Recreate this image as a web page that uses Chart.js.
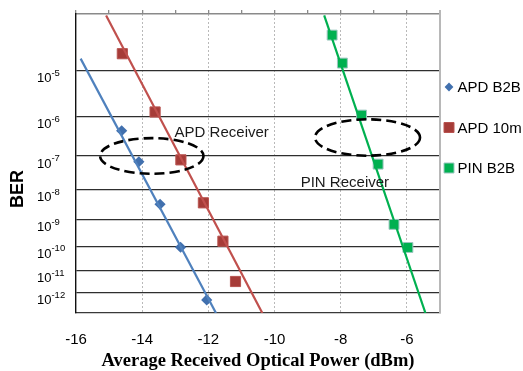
<!DOCTYPE html>
<html><head><meta charset="utf-8">
<script src="https://cdn.jsdelivr.net/npm/chart.js@4.4.1/dist/chart.umd.min.js"></script>
<style>html,body{margin:0;padding:0;background:#fff}</style>
</head><body>
<canvas id="c" width="523" height="371"></canvas>
<script>
// ---- data ----
const seriesNames = ['APD B2B', 'APD 10m', 'PIN B2B'];
const apdB2bPower = [-14.62, -14.10, -13.46, -12.84, -12.05];
const apdB2bBer   = [4.6e-7, 6.9e-8, 3.4e-9, 9.3e-11, 4.5e-13];
const apd10mPower = [-14.60, -13.61, -12.83, -12.15, -11.56, -11.18];
const apd10mBer   = [2.1e-5, 1.3e-6, 7.8e-8, 3.8e-9, 1.6e-10, 3.3e-12];
const pinB2bPower = [-8.26, -7.95, -7.37, -6.87, -6.39, -5.97];
const pinB2bBer   = [4.5e-5, 1.4e-5, 1.1e-6, 5.9e-8, 6.8e-10, 9.1e-11];
// fitted straight lines (end points)
const apdB2bFitPower = [-15.86, -11.77];
const apdB2bFitBer   = [1.7e-5, 1e-13];
const apd10mFitPower = [-15.09, -10.37];
const apd10mFitBer   = [9.5e-5, 1e-13];
const pinB2bFitPower = [-8.50, -5.44];
const pinB2bFitBer   = [9.5e-5, 1e-13];
// axes
const berTickExponents = [5, 6, 7, 8, 9, 10, 11, 12];
const berRange = [1e-4, 1e-13];
const powerTicks = [-16, -14, -12, -10, -8, -6];
const powerRange = [-16, -5];
const xTitle = 'Average Received Optical Power (dBm)';
const yTitle = 'BER';
const noteTexts = ['APD Receiver', 'PIN Receiver'];

// ---- helpers ----
const q = b => Math.log10(-Math.log10(b));          // BER -> log(-log BER) scale
const pts = (xs, bs) => xs.map((x, i) => ({x: x, y: q(bs[i])}));

const C = {
  blueLine: '#4F81BD', blueMark: '#4170AE',
  redLine: '#C0504D', redMark: '#A63C38',
  greenLine: '#00B050', greenMark: '#00B050', greenEdge: '#9CC6C0'
};
const SANS = '"Liberation Sans", Arial, sans-serif';

const annotations = [
  {type: 'ellipse', x: -13.71, ber: 1.0e-7, rx: 51.7, ry: 17.8},
  {type: 'ellipse', x: -7.19, ber: 3.1e-7, rx: 52.5, ry: 18.2},
  {type: 'text', x: -13.02, ber: 4.1e-7, text: noteTexts[0]},
  {type: 'text', x: -9.21, ber: 1.6e-8, text: noteTexts[1]}
];

const annotPlugin = {
  id: 'annot',
  afterDatasetsDraw(chart) {
    const {ctx, chartArea: a, scales: {x, y}} = chart;
    ctx.save();
    ctx.strokeStyle = '#b8b8b8'; ctx.lineWidth = 2;
    ctx.beginPath(); ctx.moveTo(a.right, a.top - 4); ctx.lineTo(a.right, a.bottom); ctx.stroke();
    ctx.strokeStyle = '#000'; ctx.lineWidth = 2.6; ctx.setLineDash([10, 5]);
    annotations.filter(o => o.type === 'ellipse').forEach(o => {
      ctx.beginPath();
      ctx.ellipse(x.getPixelForValue(o.x), y.getPixelForValue(q(o.ber)), o.rx, o.ry, 0, 0, Math.PI * 2);
      ctx.stroke();
    });
    ctx.setLineDash([]);
    ctx.fillStyle = '#1a1a1a'; ctx.font = '15px ' + SANS;
    ctx.textAlign = 'left'; ctx.textBaseline = 'middle';
    annotations.filter(o => o.type === 'text').forEach(o => {
      ctx.fillText(o.text, x.getPixelForValue(o.x), y.getPixelForValue(q(o.ber)));
    });
    ctx.restore();
  },
  afterDraw(chart) {
    const {ctx, chartArea: a, scales: {y}} = chart;
    // y tick labels: 10 with superscript exponent, placed from the y scale's ticks
    ctx.save();
    ctx.fillStyle = '#000'; ctx.textAlign = 'left'; ctx.textBaseline = 'alphabetic';
    y.ticks.forEach(t => {
      const py = y.getPixelForValue(t.value);
      const n = Math.round(Math.pow(10, t.value));
      ctx.font = '13px ' + SANS;
      ctx.fillText('10', 37, py + 11.6);
      const w = ctx.measureText('10').width;
      ctx.font = '9.5px ' + SANS;
      ctx.fillText('-' + n, 37 + w, py + 5);
    });
    ctx.restore();
    // y-axis title
    ctx.save();
    ctx.translate(18.5, 189); ctx.rotate(-Math.PI / 2);
    ctx.fillStyle = '#000'; ctx.font = 'bold 18px ' + SANS;
    ctx.textAlign = 'center'; ctx.textBaseline = 'middle';
    ctx.fillText(yTitle, 0, 0);
    ctx.restore();
    // legend
    ctx.save();
    const items = chart.data.datasets.filter(d => d.inLegend);
    items.forEach((d, i) => {
      const cy = 87 + i * 40.5, cx = a.right + 9;
      ctx.fillStyle = d.backgroundColor; ctx.strokeStyle = d.borderColor; ctx.lineWidth = 1;
      ctx.beginPath();
      if (d.pointStyle === 'rectRot') {
        ctx.moveTo(cx, cy - 4.4); ctx.lineTo(cx + 4.4, cy); ctx.lineTo(cx, cy + 4.4); ctx.lineTo(cx - 4.4, cy); ctx.closePath();
        ctx.fill();
      } else {
        ctx.rect(cx - 5, cy - 5, 10, 10); ctx.fill(); ctx.stroke();
      }
      ctx.fillStyle = '#000'; ctx.font = '15px ' + SANS;
      ctx.textAlign = 'left'; ctx.textBaseline = 'middle';
      ctx.fillText(d.label, a.right + 17.5, cy + 1);
    });
    ctx.restore();
  }
};

const lineDs = (xs, bs, color) => ({
  data: pts(xs, bs), showLine: true, borderColor: color, borderWidth: 2.2,
  pointRadius: 0, pointHoverRadius: 0, fill: false, order: 0, inLegend: false
});

new Chart(document.getElementById('c'), {
  type: 'scatter',
  data: {
    datasets: [
      lineDs(apdB2bFitPower, apdB2bFitBer, C.blueLine),
      lineDs(apd10mFitPower, apd10mFitBer, C.redLine),
      lineDs(pinB2bFitPower, pinB2bFitBer, C.greenLine),
      {label: seriesNames[0], data: pts(apdB2bPower, apdB2bBer), pointStyle: 'rectRot', pointRadius: 5.6,
       backgroundColor: C.blueMark, borderColor: C.blueMark, borderWidth: 0, order: 1, inLegend: true},
      {label: seriesNames[1], data: pts(apd10mPower, apd10mBer), pointStyle: 'rect', pointRadius: 7.2,
       backgroundColor: C.redMark, borderColor: '#B85450', borderWidth: 1, order: 1, inLegend: true},
      {label: seriesNames[2], data: pts(pinB2bPower, pinB2bBer), pointStyle: 'rect', pointRadius: 7.0,
       backgroundColor: C.greenMark, borderColor: C.greenEdge, borderWidth: 1, order: 1, inLegend: true}
    ]
  },
  options: {
    responsive: false, animation: false, devicePixelRatio: 1,
    layout: {padding: {left: 0, right: 83, top: 10, bottom: 0}},
    plugins: {legend: {display: false}, tooltip: {enabled: false}, title: {display: false}},
    scales: {
      x: {
        type: 'linear', position: 'bottom', min: powerRange[0], max: powerRange[1],
        afterBuildTicks: s => { s.ticks = powerTicks.map(v => ({value: v})); },
        afterFit: s => { s.height = 58; },
        ticks: {color: '#000', padding: 18, font: {family: SANS, size: 15}, callback: v => String(v)},
        grid: {drawTicks: false, lineWidth: 1,
               color: c => (c.tick && c.tick.value === powerRange[0]) ? 'rgba(0,0,0,0)' : '#b9b9b9'},
        border: {display: true, color: '#3a3a3a', width: 1.3, dash: [2, 2]},
        title: {display: true, text: xTitle, color: '#000', padding: {top: 0, bottom: 0},
                font: {family: '"Liberation Serif", "Times New Roman", serif', size: 18.5, weight: 'bold', lineHeight: 1.1}}
      },
      x2: {
        type: 'linear', position: 'top', min: powerRange[0], max: powerRange[1],
        ticks: {display: false, stepSize: 1},
        afterFit: s => { s.height = 4; },
        grid: {drawOnChartArea: false, drawTicks: true, tickLength: 4, color: '#8a8a8a', lineWidth: 1.3},
        border: {display: true, color: '#8a8a8a', width: 1.6}
      },
      y: {
        type: 'linear', position: 'left', reverse: true, min: q(berRange[0]), max: q(berRange[1]),
        afterBuildTicks: s => { s.ticks = berTickExponents.map(n => ({value: Math.log10(n)})); },
        afterFit: s => { s.width = 76; },
        ticks: {display: false},
        grid: {drawTicks: false, color: '#2e2e2e', lineWidth: 1.2},
        border: {display: true, color: '#111', width: 1.4}
      }
    }
  },
  plugins: [annotPlugin]
});
</script>
</body></html>
